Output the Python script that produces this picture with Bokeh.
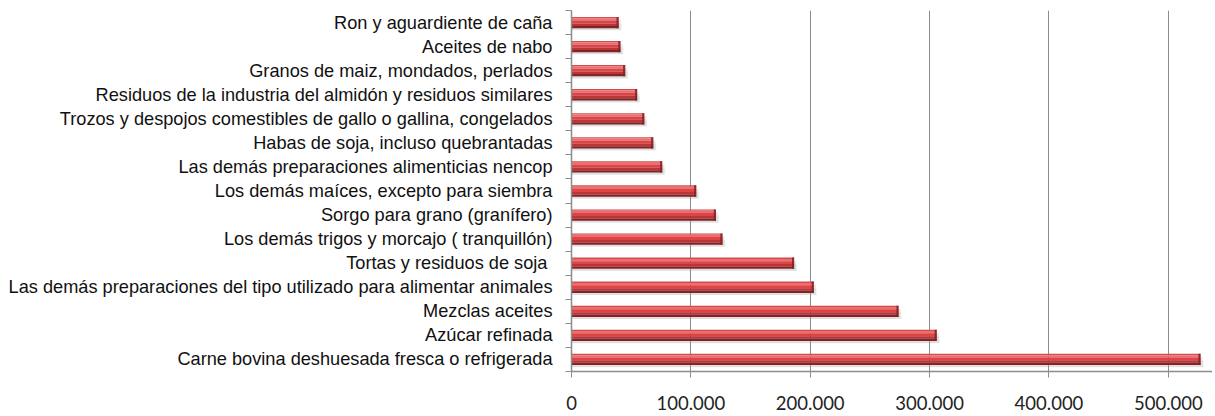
from bokeh.plotting import figure
from bokeh.models import Range1d, FixedTicker
from bokeh.embed import file_html
from bokeh.resources import INLINE

# ---- data (top to bottom, as in the picture) ----
categories = [
    "Ron y aguardiente de caña",
    "Aceites de nabo",
    "Granos de maiz, mondados, perlados",
    "Residuos de la industria del almidón y residuos similares",
    "Trozos y despojos comestibles de gallo o gallina, congelados",
    "Habas de soja, incluso quebrantadas",
    "Las demás preparaciones alimenticias nencop",
    "Los demás maíces, excepto para siembra",
    "Sorgo para grano (granífero)",
    "Los demás trigos y morcajo ( tranquillón)",
    "Tortas y residuos de soja ",
    "Las demás preparaciones del tipo utilizado para alimentar animales",
    "Mezclas aceites",
    "Azúcar refinada",
    "Carne bovina deshuesada fresca o refrigerada",
]
values = [39500, 41000, 45000, 55000, 61000, 68500, 76000, 104500,
          121000, 126500, 186500, 203000, 274000, 306000, 527000]
x_ticks = [0, 100000, 200000, 300000, 400000, 500000]
x_tick_labels = ["0", "100.000", "200.000", "300.000", "400.000", "500.000"]

n = len(categories)
ys = [n - i - 0.5 for i in range(n)]
bounds = [float(k) for k in range(n + 1)]

p = figure(width=1212, height=414, output_backend="svg", toolbar_location=None,
           x_range=Range1d(0, 537000), y_range=Range1d(0, n),
           min_border_left=571, min_border_right=0, min_border_top=10,
           min_border_bottom=43)
p.outline_line_color = None
p.background_fill_color = "white"
p.ygrid.visible = False
p.xgrid.ticker = FixedTicker(ticks=x_ticks)
p.xgrid.grid_line_color = "#8c8c8c"
p.xgrid.grid_line_width = 1

H = 0.47
# soft shadow
p.hbar(y=[y - 0.11 for y in ys], right=[v + 1800 for v in values], left=0,
       height=H * 0.9, color="#9a9a9a", alpha=0.22, line_color=None)
p.hbar(y=[y - 0.17 for y in ys], right=[v + 2500 for v in values], left=0,
       height=H * 0.6, color="#b0b0b0", alpha=0.18, line_color=None)

# cylinder-like bar built from stripes (fractions from top)
stripes = [
    (0.00, 0.12, "#cf4c4f"),
    (0.12, 0.32, "#ee6e70"),
    (0.32, 0.58, "#de4346"),
    (0.58, 0.80, "#b83538"),
    (0.80, 1.00, "#862326"),
]
for a, b, c in stripes:
    off = H / 2 - (a + b) / 2 * H
    p.hbar(y=[y + off for y in ys], right=values, left=0, height=(b - a) * H,
           color=c, line_color=None)
# dark end cap
p.hbar(y=ys, left=[v - 1800 for v in values], right=values, height=H,
       color="#7d2224", alpha=0.85, line_color=None)

# axes
xa = p.xaxis[0]
xa.ticker = FixedTicker(ticks=x_ticks)
xa.major_label_overrides = {t: l for t, l in zip(x_ticks, x_tick_labels)}
xa.axis_line_color = "#8c8c8c"
xa.axis_line_width = 1.5
xa.major_tick_line_color = "#8c8c8c"
xa.major_tick_out = 6
xa.major_tick_in = 0
xa.minor_tick_line_color = None
xa.major_label_standoff = 18
xa.major_label_text_font = "Lato"
xa.major_label_text_font_size = "18.5px"
xa.major_label_text_color = "#222222"

ya = p.yaxis[0]
ya.ticker = FixedTicker(ticks=ys, minor_ticks=bounds)
ya.major_label_overrides = {y: c for y, c in zip(ys, categories)}
ya.axis_line_color = "#8c8c8c"
ya.axis_line_width = 1.5
ya.major_tick_line_color = None
ya.major_tick_out = 0
ya.major_tick_in = 0
ya.minor_tick_line_color = "#8c8c8c"
ya.minor_tick_out = 6
ya.minor_tick_in = 0
ya.major_label_standoff = 13
ya.major_label_text_font = "Liberation Sans"
ya.major_label_text_font_size = "18.2px"
ya.major_label_text_color = "#111111"

open("out.html", "w").write(file_html(p, INLINE))
